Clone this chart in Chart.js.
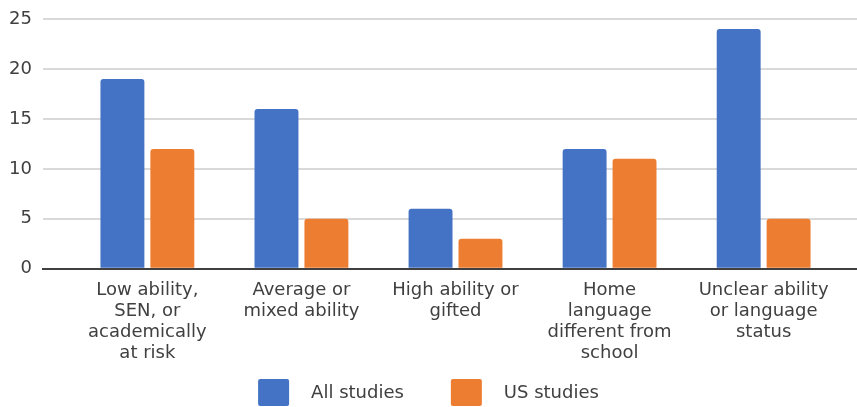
<!DOCTYPE html>
<html>
<head>
<meta charset="utf-8">
<script src="https://cdn.jsdelivr.net/npm/chart.js@4.4.1/dist/chart.umd.min.js"></script>
<style>
  html, body { margin: 0; padding: 0; background: #ffffff; }
  #wrap { width: 857px; height: 407px; }
</style>
</head>
<body>
<div id="wrap"><canvas id="c" width="857" height="407"></canvas></div>
<script>
// Student groups (multi-line axis labels)
const categories = [
  ["Low ability,", "SEN, or", "academically", "at risk"],
  ["Average or", "mixed ability"],
  ["High ability or", "gifted"],
  ["Home", "language", "different from", "school"],
  ["Unclear ability", "or language", "status"]
];
const seriesNames = ["All studies", "US studies"];
const allStudies = [19, 16, 6, 12, 24];
const usStudies = [12, 5, 3, 11, 5];
const yTicks = [0, 5, 10, 15, 20, 25];

const FONT = '"DejaVu Sans", sans-serif';
const TEXT = '#404040';
const BLUE = '#4472C4';
const ORANGE = '#ED7D31';

const toPoints = vals => vals.map((v, i) => ({ x: i, y: v }));

// Legend drawn under the axis labels: rounded swatch, wide gap, label
const bottomLegend = {
  id: 'bottomLegend',
  afterDraw(chart) {
    const ctx = chart.ctx;
    ctx.save();
    ctx.font = '18px ' + FONT;
    const boxW = 31, boxH = 27, gap = 22, spacing = 47;
    const items = chart.data.datasets.map(ds => ({
      text: ds.label, color: ds.backgroundColor, w: ctx.measureText(ds.label).width
    }));
    const total = items.reduce((s, it) => s + boxW + gap + it.w, 0) + spacing * (items.length - 1);
    let x = (chart.width - total) / 2;
    const y = chart.height - 28;
    items.forEach(it => {
      ctx.fillStyle = it.color;
      ctx.beginPath();
      if (ctx.roundRect) ctx.roundRect(x, y, boxW, boxH, 2); else ctx.rect(x, y, boxW, boxH);
      ctx.fill();
      ctx.fillStyle = TEXT;
      ctx.textBaseline = 'middle';
      ctx.textAlign = 'left';
      ctx.fillText(it.text, x + boxW + gap, y + boxH / 2 + 1);
      x += boxW + gap + it.w + spacing;
    });
    ctx.restore();
  }
};

new Chart(document.getElementById('c'), {
  type: 'bar',
  data: {
    datasets: [
      { label: seriesNames[0], data: toPoints(allStudies), backgroundColor: BLUE },
      { label: seriesNames[1], data: toPoints(usStudies), backgroundColor: ORANGE }
    ]
  },
  options: {
    responsive: false,
    animation: false,
    devicePixelRatio: 1,
    layout: { padding: { top: 10, right: 0, bottom: 32, left: 0 } },
    datasets: {
      bar: {
        categoryPercentage: 0.648,
        barPercentage: 0.88,
        borderRadius: { topLeft: 3, topRight: 3 },
        borderSkipped: 'start'
      }
    },
    plugins: {
      legend: { display: false },
      tooltip: { enabled: false }
    },
    scales: {
      x: {
        type: 'linear',
        offset: false,
        min: -0.6775,
        max: 4.606,
        afterBuildTicks: axis => { axis.ticks = categories.map((_, i) => ({ value: i })); },
        ticks: {
          autoSkip: false,
          maxRotation: 0,
          padding: 11,
          color: TEXT,
          font: { family: FONT, size: 18, lineHeight: 1.17 },
          callback: v => categories[v]
        },
        grid: { display: false, drawTicks: false },
        border: { display: true, color: '#404040', width: 2 }
      },
      y: {
        min: 0,
        max: 25,
        afterBuildTicks: axis => { axis.ticks = yTicks.map(v => ({ value: v })); },
        afterFit: axis => { axis.width = 43; axis.paddingTop = 19; },
        ticks: {
          padding: 11,
          color: TEXT,
          font: { family: FONT, size: 18 }
        },
        grid: { color: '#d9d9d9', lineWidth: 2, drawTicks: false },
        border: { display: false }
      }
    }
  },
  plugins: [bottomLegend]
});
</script>
</body>
</html>
